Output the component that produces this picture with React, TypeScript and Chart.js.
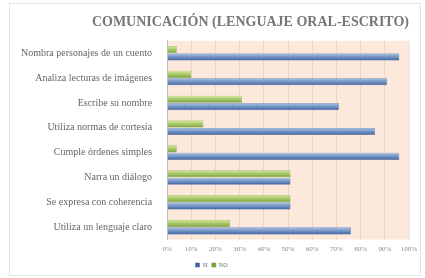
import React, { useEffect, useRef } from "react";
import { Chart, registerables } from "chart.js";
Chart.register(...registerables);

const categories = [
  "Nombra personajes de un cuento",
  "Analiza lecturas de imágenes",
  "Escribe su nombre",
  "Utiliza normas de cortesía",
  "Cumple órdenes simples",
  "Narra un diálogo",
  "Se expresa con coherencia",
  "Utiliza un lenguaje claro",
];
const siValues = [96, 91, 71, 86, 96, 51, 51, 76];
const noValues = [4, 10, 31, 15, 4, 51, 51, 26];
const seriesNames = ["SI", "NO"];
const titleText = "COMUNICACIÓN (LENGUAJE ORAL-ESCRITO)";

const bgPlugin = {
  id: "bgPlugin",
  beforeDraw(chart: any) {
    const { ctx, chartArea, width, height } = chart;
    ctx.save();
    ctx.fillStyle = "#ffffff";
    ctx.fillRect(0, 0, width, height);
    ctx.strokeStyle = "#e3e3e3";
    ctx.lineWidth = 1;
    ctx.strokeRect(9.5, 3.5, width - 14, height - 6);
    ctx.fillStyle = "#fde9dc";
    ctx.fillRect(chartArea.left, chartArea.top, chartArea.right - chartArea.left, chartArea.bottom - chartArea.top);
    ctx.restore();
  },
};

function gradFor(light: string, dark: string) {
  return (c: any) => {
    const el = c.element;
    if (!c.chart || !c.chart.ctx || !el || el.y === undefined || el.height === undefined || isNaN(el.y) || isNaN(el.height) || el.height <= 0) return dark;
    const h = el.height;
    const g = c.chart.ctx.createLinearGradient(0, el.y - h / 2, 0, el.y + h / 2);
    g.addColorStop(0, light);
    g.addColorStop(1, dark);
    return g;
  };
}

export default function App() {
  const ref = useRef<HTMLCanvasElement>(null);
  useEffect(() => {
    document.body.style.margin = "0";
    const chart = new Chart(ref.current!, {
      type: "bar",
      data: {
        labels: categories,
        datasets: [
          {
            label: seriesNames[1],
            data: noValues,
            backgroundColor: gradFor("#d7eb9a", "#76a33a"),
            borderColor: "#6f9a3a",
            borderWidth: 0.5,
            barPercentage: 0.95,
            categoryPercentage: 0.6,
          },
          {
            label: seriesNames[0],
            data: siValues,
            backgroundColor: gradFor("#a9c4e6", "#3d62a0"),
            borderColor: "#3a5f98",
            borderWidth: 0.5,
            barPercentage: 0.95,
            categoryPercentage: 0.6,
          },
        ],
      },
      options: {
        indexAxis: "y",
        animation: false,
        responsive: false,
        layout: { padding: { left: 14, right: 16, top: 8, bottom: 0 } },
        scales: {
          x: {
            min: 0,
            max: 100,
            ticks: {
              stepSize: 10,
              callback: (v: any) => v + "%",
              color: "#8a8a8a",
              font: { family: "Liberation Serif", size: 7 },
              padding: 5,
            },
            grid: { color: "rgba(210,180,160,0.35)", drawTicks: false },
            border: { display: false },
          },
          y: {
            ticks: {
              color: "#666666",
              font: { family: "Liberation Serif", size: 10 },
              padding: 7,
            },
            grid: { display: false },
            border: { color: "#bfbfbf" },
          },
        },
        plugins: {
          title: {
            display: true,
            text: titleText,
            align: "end",
            color: "#767676",
            font: { family: "Liberation Serif", size: 14, weight: "bold" },
            padding: { top: 6, bottom: 10 },
          },
          legend: {
            position: "bottom",
            reverse: true,
            labels: {
              boxWidth: 4,
              boxHeight: 4,
              padding: 4,
              color: "#666666",
              font: { family: "Liberation Serif", size: 6 },
            },
          },
          tooltip: { enabled: false },
        },
      },
      plugins: [bgPlugin],
    } as any);
    chart.update();
    return () => chart.destroy();
  }, []);
  return (
    <div style={{ width: 425, height: 278 }}>
      <canvas ref={ref} width={425} height={278} style={{ display: "block" }} />
    </div>
  );
}
